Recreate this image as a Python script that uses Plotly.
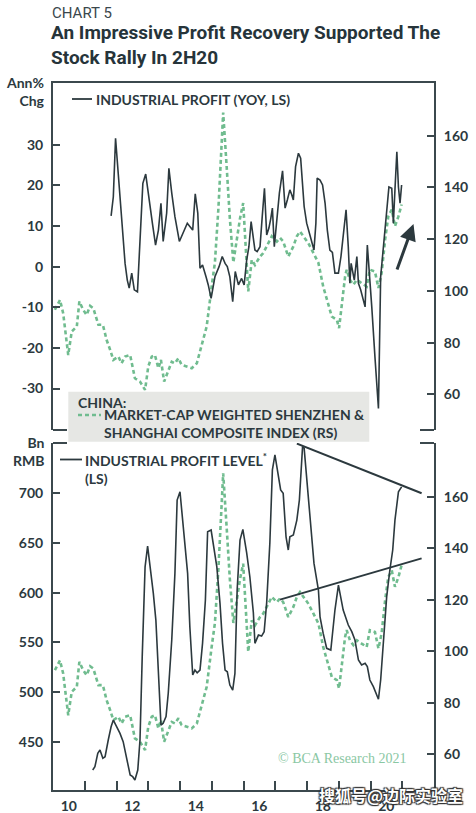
import plotly.graph_objects as go

# ---------------- data (decimal years) ----------------
stock_dates = [2010.06, 2010.22, 2010.32, 2010.48, 2010.59, 2010.75, 2010.83, 2010.95, 2011.06, 2011.17,
               2011.27, 2011.43, 2011.57, 2011.69, 2011.80, 2011.90, 2012.06, 2012.16, 2012.27, 2012.43,
               2012.58, 2012.74, 2012.90, 2013.00, 2013.11, 2013.21, 2013.32, 2013.40, 2013.50, 2013.63,
               2013.74, 2013.84, 2013.95, 2014.05, 2014.21, 2014.37, 2014.53, 2014.68, 2014.84, 2015.00,
               2015.10, 2015.21, 2015.28, 2015.36, 2015.47, 2015.57, 2015.68, 2015.76, 2015.89, 2015.99,
               2016.08, 2016.15, 2016.26, 2016.36, 2016.52, 2016.62, 2016.73, 2016.89, 2017.05, 2017.15,
               2017.25, 2017.41, 2017.57, 2017.68, 2017.78, 2017.88, 2018.04, 2018.20, 2018.36, 2018.51,
               2018.67, 2018.78, 2018.94, 2019.01, 2019.09, 2019.20, 2019.25, 2019.35, 2019.46, 2019.57,
               2019.72, 2019.88, 2019.98, 2020.14, 2020.25, 2020.35, 2020.46, 2020.56, 2020.67, 2020.77,
               2020.88, 2020.98]
stock_index = [92.7, 96.5, 91.4, 75.2, 84.3, 86.2, 95.9, 92.7, 90.7, 94.2,
               93.3, 86.9, 86.9, 81.0, 77.2, 73.3, 74.6, 72.0, 74.6, 75.2,
               66.2, 64.9, 61.7, 70.7, 74.6, 75.2, 70.1, 73.3, 64.9, 69.4,
               72.6, 72.0, 74.0, 71.4, 70.7, 70.1, 72.0, 78.4, 86.2, 102.0,
               111.0, 132.0, 150.0, 169.0, 148.0, 128.0, 111.0, 118.0, 128.0, 134.0,
               115.0, 99.8, 112.0, 110.0, 113.3, 114.6, 117.2, 121.1, 119.1, 120.5,
               119.1, 113.3, 117.2, 121.1, 123.0, 121.1, 118.5, 114.7, 110.8, 101.7,
               95.3, 90.1, 88.8, 85.6, 94.0, 105.6, 108.2, 104.3, 102.4, 104.3,
               103.0, 101.7, 108.2, 107.5, 101.1, 106.9, 119.8, 128.8, 131.4, 125.0,
               128.8, 133.4]

yoy_dates = [2011.83, 2011.90, 2011.97, 2012.06, 2012.16, 2012.27, 2012.34, 2012.40, 2012.48, 2012.56,
             2012.66, 2012.74, 2012.83, 2012.92, 2013.02, 2013.13, 2013.23, 2013.32, 2013.40, 2013.47,
             2013.58, 2013.65, 2013.74, 2013.84, 2013.98, 2014.10, 2014.23, 2014.31, 2014.40, 2014.48,
             2014.56, 2014.63, 2014.71, 2014.82, 2014.89, 2014.98, 2015.10, 2015.23, 2015.33, 2015.42,
             2015.49, 2015.57, 2015.66, 2015.74, 2015.84, 2015.94, 2016.02, 2016.10, 2016.17, 2016.24,
             2016.31, 2016.36, 2016.43, 2016.52, 2016.59, 2016.66, 2016.73, 2016.80, 2016.86, 2016.91,
             2016.97, 2017.05, 2017.13, 2017.23, 2017.31, 2017.38, 2017.46, 2017.52, 2017.57, 2017.64,
             2017.73, 2017.80, 2017.85, 2017.91, 2017.99, 2018.07, 2018.15, 2018.22, 2018.28, 2018.32,
             2018.41, 2018.49, 2018.57, 2018.64, 2018.72, 2018.80, 2018.88, 2018.99, 2019.07, 2019.14,
             2019.23, 2019.30, 2019.35, 2019.39, 2019.44, 2019.49, 2019.57, 2019.62, 2019.69, 2019.75,
             2019.83, 2019.90, 2019.96, 2020.04, 2020.14, 2020.25, 2020.32, 2020.43, 2020.51, 2020.58,
             2020.67, 2020.72, 2020.77, 2020.83, 2020.88, 2020.93, 2020.98]
profit_yoy = [12.5, 17.2, 31.6, 22.2, 10.7, 0.8, -3.3, -5.3, -1.6, -5.7,
              -6.2, 7.4, 20.5, 22.8, 16.4, 10.7, 5.3, 9.0, 15.6, 6.2,
              13.2, 24.2, 18.1, 12.3, 6.2, 8.6, 10.7, 9.9, 9.0, 17.9,
              13.2, -0.4, 0.4, -2.5, -4.5, -7.8, -2.5, 0.0, 2.5, 0.8,
              0.0, -2.5, -8.6, -1.2, -4.5, -2.9, -4.5, 1.6, 4.9, 11.1,
              7.4, 4.1, 3.7, 4.9, 12.3, 19.3, 7.8, 9.5, 11.9, 14.4,
              4.9, 11.5, 18.1, 23.6, 14.4, 16.4, 18.9, 17.7, 16.4, 24.6,
              27.9, 26.7, 21.3, 14.8, 10.7, 8.2, 5.8, 4.1, 10.7, 21.8,
              21.3, 20.1, 15.6, 9.0, 4.1, 3.5, -1.6, -1.6, 2.5, 8.2,
              14.0, 4.9, -4.1, 0.8, -1.2, -3.3, 2.5, -4.1, -5.7, -7.4,
              -9.9, 5.3, -0.8, -9.9, -22.2, -34.9, -2.5, 7.0, 13.2, 19.6,
              19.3, 10.7, 18.9, 28.3, 19.6, 15.6, 20.1]

level_dates = [2011.25, 2011.32, 2011.41, 2011.48, 2011.57, 2011.64, 2011.74, 2011.83, 2011.90, 2012.01,
               2012.11, 2012.21, 2012.32, 2012.43, 2012.51, 2012.58, 2012.67, 2012.74, 2012.81, 2012.90,
               2012.98, 2013.06, 2013.16, 2013.24, 2013.32, 2013.40, 2013.47, 2013.56, 2013.63, 2013.74,
               2013.84, 2013.91, 2014.00, 2014.09, 2014.16, 2014.24, 2014.31, 2014.40, 2014.47, 2014.54,
               2014.63, 2014.71, 2014.80, 2014.87, 2014.98, 2015.07, 2015.16, 2015.26, 2015.34, 2015.42,
               2015.49, 2015.57, 2015.66, 2015.73, 2015.80, 2015.89, 2015.98, 2016.10, 2016.20, 2016.31,
               2016.36, 2016.47, 2016.57, 2016.65, 2016.73, 2016.83, 2016.91, 2016.99, 2017.08, 2017.17,
               2017.25, 2017.34, 2017.41, 2017.46, 2017.57, 2017.68, 2017.76, 2017.81, 2017.86, 2017.91,
               2017.99, 2018.09, 2018.22, 2018.36, 2018.41, 2018.51, 2018.62, 2018.75, 2018.88, 2018.99,
               2019.14, 2019.30, 2019.41, 2019.51, 2019.62, 2019.72, 2019.83, 2019.90, 2019.98, 2020.09,
               2020.17, 2020.25, 2020.32, 2020.40, 2020.48, 2020.51, 2020.61, 2020.70, 2020.77, 2020.88,
               2020.98]
profit_level = [421.5, 424.8, 438.3, 441.6, 433.3, 434.9, 451.7, 465.0, 471.8, 465.0,
                458.4, 450.0, 434.9, 416.5, 414.8, 411.5, 421.5, 451.7, 535.5, 626.0,
                646.9, 626.0, 599.3, 572.4, 518.8, 466.8, 468.5, 475.2, 498.7, 552.3,
                619.4, 693.2, 701.5, 669.7, 646.2, 619.4, 565.7, 517.1, 522.1, 519.4,
                522.1, 549.0, 592.6, 661.3, 663.0, 642.9, 626.0, 589.2, 549.0, 522.1,
                520.4, 507.0, 502.0, 518.8, 602.6, 652.9, 663.7, 640.0, 616.0, 580.0,
                549.0, 557.3, 556.3, 560.7, 590.0, 650.0, 723.5, 738.6, 720.0, 703.3,
                699.9, 656.2, 642.9, 656.2, 658.0, 673.0, 693.2, 723.5, 747.0, 745.4,
                713.3, 673.0, 629.4, 602.6, 575.7, 559.0, 544.0, 542.3, 582.5, 607.6,
                582.5, 567.4, 560.7, 552.3, 532.2, 527.2, 528.9, 525.5, 512.1, 505.4,
                498.7, 492.7, 512.1, 552.3, 592.6, 596.0, 622.8, 642.9, 673.0, 701.5,
                706.5]

upper_trend_dates = [2017.68, 2021.61]
upper_trend_vals = [750.0, 700.0]
lower_trend_dates = [2017.15, 2021.61]
lower_trend_vals = [593.0, 634.5]

x_range = [2010, 2022]
label_years = [2010.5, 2012.5, 2014.5, 2016.5, 2018.5, 2020.5]
label_text = ["10", "12", "14", "16", "18", "20"]
year_ticks = [2011, 2012, 2013, 2014, 2015, 2016, 2017, 2018, 2019, 2020, 2021]
yoy_ticks = [-30, -20, -10, 0, 10, 20, 30]
yoy_labels = ["-30", "-20", "-10", "0", "10", "20", "30"]
stock_ticks = [60, 80, 100, 120, 140, 160]
level_ticks = [450, 500, 550, 600, 650, 700]

# ---------------- style ----------------
W, H = 476, 813
ML, MR, MT, MB = 53, 42, 83, 23
PW, PH = W - ML - MR, H - MT - MB
DARK = "#2c393e"
AXIS = "#3b484d"
GREEN = "#70bc8f"
FONT = "Lato"


def px(x):
    return (x - ML) / PW


def py(y):
    return (H - MB - y) / PH


top_dom = [py(430), 1.0]
bot_dom = [0.0, py(443)]

tickfont = dict(family=FONT, size=14, color=DARK, weight=700)

black_line = dict(color=DARK, width=1.6)
green_line = dict(color=GREEN, width=2.6, dash="4px,3px")

fig = go.Figure()
# top panel: stock on base right axis (y), yoy on overlaying left axis (y2)
fig.add_trace(go.Scatter(x=stock_dates, y=stock_index, xaxis="x2", yaxis="y",
                         mode="lines", line=green_line, showlegend=False))
fig.add_trace(go.Scatter(x=yoy_dates, y=profit_yoy, xaxis="x2", yaxis="y2",
                         mode="lines", line=black_line, showlegend=False))
# bottom panel: stock on base right axis (y3), level on overlaying left axis (y4)
fig.add_trace(go.Scatter(x=stock_dates, y=stock_index, xaxis="x", yaxis="y3",
                         mode="lines", line=green_line, showlegend=False))
fig.add_trace(go.Scatter(x=level_dates, y=profit_level, xaxis="x", yaxis="y4",
                         mode="lines", line=black_line, showlegend=False))
fig.add_trace(go.Scatter(x=upper_trend_dates, y=upper_trend_vals, xaxis="x", yaxis="y4",
                         mode="lines", line=dict(color=DARK, width=2), showlegend=False,
                         cliponaxis=False))
fig.add_trace(go.Scatter(x=lower_trend_dates, y=lower_trend_vals, xaxis="x", yaxis="y4",
                         mode="lines", line=dict(color=DARK, width=2), showlegend=False,
                         cliponaxis=False))

yax_common = dict(showgrid=False, zeroline=False, showline=True, linecolor=AXIS, linewidth=2,
                  ticks="inside", ticklen=7, tickwidth=2, tickcolor=AXIS, tickfont=tickfont,
                  tickmode="array", ticklabelstandoff=5, automargin=False)

fig.update_layout(
    width=W, height=H,
    margin=dict(l=ML, r=MR, t=MT, b=MB, autoexpand=False),
    paper_bgcolor="white", plot_bgcolor="white",
    xaxis=dict(domain=[0, 1], anchor="y3", range=x_range, showgrid=False, zeroline=False,
               showline=True, linecolor=AXIS, linewidth=2, automargin=False,
               tickmode="array", tickvals=label_years, ticktext=label_text, ticks="",
               tickfont=tickfont, ticklabelstandoff=2,
               minor=dict(tickmode="array", tickvals=year_ticks, ticks="inside", ticklen=9,
                          tickwidth=2, tickcolor=AXIS, showgrid=False)),
    xaxis2=dict(domain=[0, 1], anchor="y", range=x_range, side="top", showgrid=False,
                zeroline=False, showline=True, linecolor=AXIS, linewidth=2,
                showticklabels=False, ticks=""),
    yaxis=dict(domain=top_dom, anchor="x2", side="right", range=[46.2, 180.4],
               tickvals=stock_ticks, **yax_common),
    yaxis2=dict(overlaying="y", anchor="x2", side="left", range=[-40.2, 45.2],
                tickvals=yoy_ticks, ticktext=yoy_labels, **yax_common),
    yaxis3=dict(domain=bot_dom, anchor="x", side="right", range=[46.2, 180.8],
                tickvals=stock_ticks, **yax_common),
    yaxis4=dict(overlaying="y3", anchor="x", side="left", range=[401.4, 750.6],
                tickvals=level_ticks, **yax_common),
)

shapes = []
# end caps where the two panels meet
for yy in (430, 443):
    shapes.append(dict(type="line", xref="paper", yref="paper", x0=px(53), x1=px(67),
                       y0=py(yy), y1=py(yy), line=dict(color=AXIS, width=2)))
    shapes.append(dict(type="line", xref="paper", yref="paper", x0=px(420), x1=px(434),
                       y0=py(yy), y1=py(yy), line=dict(color=AXIS, width=2)))
# legend box
shapes.append(dict(type="rect", xref="paper", yref="paper", x0=px(68.3), x1=px(369.3),
                   y0=py(441.7), y1=py(391.7), fillcolor="#e6e7e4", line=dict(width=0),
                   layer="above"))
# legend keys
shapes.append(dict(type="line", xref="paper", yref="paper", x0=px(72), x1=px(92),
                   y0=py(99), y1=py(99), line=dict(color=DARK, width=1.8)))
shapes.append(dict(type="line", xref="paper", yref="paper", x0=px(78), x1=px(101),
                   y0=py(415), y1=py(415), line=dict(color=GREEN, width=2.4, dash="4px,3px")))
shapes.append(dict(type="line", xref="paper", yref="paper", x0=px(60), x1=px(82),
                   y0=py(459.5), y1=py(459.5), line=dict(color=DARK, width=1.8)))
fig.update_layout(shapes=shapes)

legfont = dict(family=FONT, size=14, color=DARK, weight=700)
ann = []


def text(x, y, s, font, xanchor="left", align="left", yanchor="middle"):
    ann.append(dict(xref="paper", yref="paper", x=px(x), y=py(y), text=s, showarrow=False,
                    xanchor=xanchor, yanchor=yanchor, align=align, font=font, borderpad=0))


text(51, 13, "CHART 5", dict(family="Roboto", size=15, color="#3a474c"))
text(50, 45, "An Impressive Profit Recovery Supported The<br>Stock Rally In 2H20",
     dict(family="Liberation Sans Narrow, Roboto", size=19, color="#26343a", weight=700))
text(46, 91.5, "Ann%<br>Chg", legfont, xanchor="right", align="right")
text(46, 451.5, "Bn<br>RMB", legfont, xanchor="right", align="right")
text(95, 99, "INDUSTRIAL PROFIT (YOY, LS)", legfont)
text(77, 402.5, "CHINA:", legfont)
text(103, 423.5, "MARKET-CAP WEIGHTED SHENZHEN &<br>SHANGHAI COMPOSITE INDEX (RS)", legfont)
text(84, 468, "INDUSTRIAL PROFIT LEVEL<sup>*</sup><br>(LS)", legfont)
text(342, 758, "© BCA Research 2021", dict(family="Liberation Serif", size=14, color="#8ac7a3"),
     xanchor="center")
text(391, 795, "搜狐号@边际实验室",
     dict(family="Noto Sans CJK SC", size=16, color="white", weight=700,
          shadow="1px 1px 1px #333, -1px -1px 1px #333, 1px -1px 1px #333, -1px 1px 1px #333"),
     xanchor="center")
# upward arrow in top panel
ann.append(dict(xref="paper", yref="paper", x=px(413.5), y=py(224), ax=-17, ay=47,
                showarrow=True, arrowhead=2, arrowsize=1.1, arrowwidth=3, arrowcolor=DARK,
                text=""))
fig.update_layout(annotations=ann)

fig.write_html("out.html", config={"displayModeBar": False},
               post_script="document.body.style.margin='0';")
